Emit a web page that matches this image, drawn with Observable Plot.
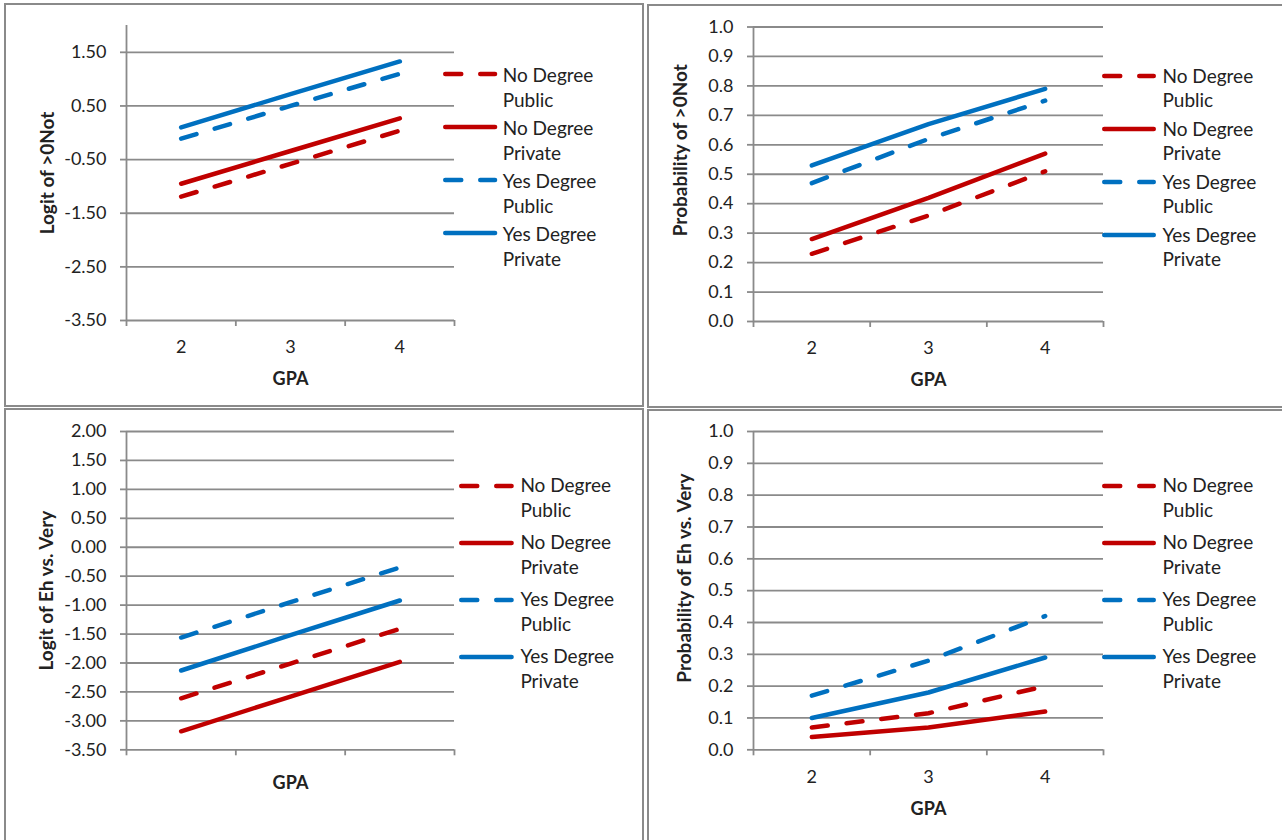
<!DOCTYPE html>
<html>
<head>
<meta charset="utf-8">
<script src="https://cdn.jsdelivr.net/npm/d3@7"></script>
<script src="https://cdn.jsdelivr.net/npm/@observablehq/plot@0.6"></script>
<style>
html, body { margin: 0; padding: 0; background: #fff; }
#root { position: relative; width: 1282px; height: 840px; overflow: hidden; background: #fff; font-family: Lato, "Open Sans", sans-serif; }
.panel { position: absolute; border: 2px solid #8a8a8a; box-sizing: border-box; }
.chart { position: absolute; }
.chart svg { overflow: visible; }
.lg-text { position: absolute; font-size: 19px; line-height: 25px; color: #222; white-space: nowrap; }
.lg-swatch { position: absolute; overflow: visible; }
</style>
</head>
<body>
<div id="root"></div>
<script>
// ---------------- DATA ----------------
const gpa = [2, 3, 4];
const seriesDegree = ["No Degree", "No Degree", "Yes Degree", "Yes Degree"];
const seriesSchool = ["Public", "Private", "Public", "Private"];

// Logit of >0Not
const logitNotNoPublic   = [-1.19, -0.58, 0.04];
const logitNotNoPrivate  = [-0.95, -0.34, 0.27];
const logitNotYesPublic  = [-0.11, 0.50, 1.10];
const logitNotYesPrivate = [0.10, 0.72, 1.33];

// Probability of >0Not
const probNotNoPublic   = [0.23, 0.36, 0.51];
const probNotNoPrivate  = [0.28, 0.42, 0.57];
const probNotYesPublic  = [0.47, 0.62, 0.75];
const probNotYesPrivate = [0.53, 0.67, 0.79];

// Logit of Eh vs. Very
const logitVeryNoPublic   = [-2.61, -2.01, -1.41];
const logitVeryNoPrivate  = [-3.18, -2.58, -1.98];
const logitVeryYesPublic  = [-1.56, -0.95, -0.35];
const logitVeryYesPrivate = [-2.13, -1.52, -0.92];

// Probability of Eh vs. Very
const probVeryNoPublic   = [0.07, 0.115, 0.20];
const probVeryNoPrivate  = [0.04, 0.07, 0.12];
const probVeryYesPublic  = [0.17, 0.28, 0.42];
const probVeryYesPrivate = [0.10, 0.18, 0.29];

// Tick values
const logitNotTicks  = [-3.5, -2.5, -1.5, -0.5, 0.5, 1.5];
const logitVeryTicks = [-3.5, -3, -2.5, -2, -1.5, -1, -0.5, 0, 0.5, 1, 1.5, 2];
const probTicks      = [0, 0.1, 0.2, 0.3, 0.4, 0.5, 0.6, 0.7, 0.8, 0.9, 1.0];
const logitDomain = [-3.5, 2];
const probDomain  = [0, 1];

// ---------------- STYLE ----------------
const seriesNames = seriesDegree.map((d, i) => d + " " + seriesSchool[i]);
const seriesColors = ["#C00000", "#C00000", "#0070C0", "#0070C0"];
const seriesDashed = [true, false, true, false];
const DASH = "16,19";
const GRID = "#8a8a8a";
const TEXT = "#222";
const LINE_W = 4.5;
const TICK_FONT = 18;

const xDomain = [gpa[0] - 0.5, gpa[gpa.length - 1] + 0.5];
const bounds = [...gpa.map(g => g - 0.5), gpa[gpa.length - 1] + 0.5];

const root = document.getElementById("root");

function panel(left, top, width, height) {
  const d = document.createElement("div");
  d.className = "panel";
  Object.assign(d.style, {left: left + "px", top: top + "px", width: width + "px", height: height + "px"});
  root.appendChild(d);
}

function makeChart(cfg) {
  const data = seriesNames.flatMap((name, s) =>
    gpa.map((g, i) => ({series: name, gpa: g, value: cfg.values[s][i]})));
  const marks = [
    Plot.gridY({ticks: cfg.ticks, stroke: GRID, strokeOpacity: 1, strokeWidth: 1.8}),
    Plot.ruleX([xDomain[0]], {stroke: GRID, strokeWidth: 1.8}),
    Plot.axisY({ticks: cfg.ticks, tickSize: 6, tickFormat: () => "", stroke: GRID, strokeWidth: 1.8, label: null}),
    Plot.axisX({ticks: bounds, tickSize: 6, tickFormat: () => "", stroke: GRID, strokeWidth: 1.8, label: null}),
    Plot.text(cfg.ticks, {y: d => d, text: cfg.fmt, frameAnchor: "left", dx: -20, textAnchor: "end",
      lineAnchor: "middle", fontSize: TICK_FONT, fill: TEXT})
  ];
  if (cfg.xLabels) {
    marks.push(Plot.text(gpa, {x: d => d, text: d => String(d), frameAnchor: "bottom", dy: 27,
      lineAnchor: "middle", fontSize: TICK_FONT, fill: TEXT}));
  }
  seriesNames.forEach((name, s) => {
    const opts = {x: "gpa", y: "value", stroke: "series", strokeWidth: LINE_W,
      strokeLinecap: "round", strokeLinejoin: "round"};
    if (seriesDashed[s]) opts.strokeDasharray = DASH;
    marks.push(Plot.line(data.filter(d => d.series === name), opts));
  });
  marks.push(Plot.text([cfg.yTitle], {text: d => d, frameAnchor: "left", dx: cfg.yTitleDx, dy: cfg.yTitleDy,
    rotate: -90, textAnchor: "middle", lineAnchor: "middle", fontWeight: "bold", fontSize: 19, fill: TEXT}));
  marks.push(Plot.text(["GPA"], {text: d => d, frameAnchor: "bottom", dy: cfg.gpaDy, lineAnchor: "middle",
    fontWeight: "bold", fontSize: 18, fill: TEXT}));

  const svg = Plot.plot({
    width: cfg.width, height: cfg.height,
    marginLeft: cfg.mL, marginRight: cfg.mR, marginTop: cfg.mT, marginBottom: cfg.mB,
    x: {domain: xDomain, axis: null},
    y: {domain: cfg.domain, axis: null},
    color: {domain: seriesNames, range: seriesColors},
    style: {fontFamily: "Lato, 'Open Sans', sans-serif", fontSize: "18px", background: "transparent", color: TEXT, overflow: "visible"},
    marks
  });
  const wrap = document.createElement("div");
  wrap.className = "chart";
  wrap.style.left = cfg.left + "px";
  wrap.style.top = cfg.top + "px";
  wrap.appendChild(svg);
  root.appendChild(wrap);
}

function makeLegend(lg) {
  seriesNames.forEach((name, s) => {
    const cy = lg.y0 + s * lg.rowStep;
    const w = lg.x1 - lg.x0;
    const sw = d3.create("svg").attr("class", "lg-swatch")
      .attr("width", w).attr("height", 10)
      .style("left", lg.x0 + "px").style("top", (cy - 5) + "px");
    sw.append("line")
      .attr("x1", LINE_W / 2).attr("x2", w - LINE_W / 2).attr("y1", 5).attr("y2", 5)
      .attr("stroke", seriesColors[s]).attr("stroke-width", LINE_W)
      .attr("stroke-linecap", "round")
      .attr("stroke-dasharray", seriesDashed[s] ? DASH : null);
    root.appendChild(sw.node());
    const t = document.createElement("div");
    t.className = "lg-text";
    t.style.left = lg.tx + "px";
    t.style.top = (cy - 12.5) + "px";
    t.style.lineHeight = lg.lineStep + "px";
    t.innerHTML = seriesDegree[s] + "<br>" + seriesSchool[s];
    root.appendChild(t);
  });
}

panel(4, 3, 640, 404);
panel(647, 4, 650, 404);
panel(4, 408, 640, 450);
panel(647, 409, 650, 450);

const fmt2 = d => d.toFixed(2);
const fmt1 = d => d.toFixed(1);

makeChart({left: 0, top: 0, width: 645, height: 405, mL: 126, mR: 191, mT: 25, mB: 85,
  domain: logitDomain, ticks: logitNotTicks, fmt: fmt2,
  values: [logitNotNoPublic, logitNotNoPrivate, logitNotYesPublic, logitNotYesPrivate],
  yTitle: "Logit of >0Not", yTitleDx: -79, yTitleDy: 0, gpaDy: 59, xLabels: true});

makeChart({left: 645, top: 0, width: 637, height: 405, mL: 108, mR: 179, mT: 26.5, mB: 84,
  domain: probDomain, ticks: probTicks, fmt: fmt1,
  values: [probNotNoPublic, probNotNoPrivate, probNotYesPublic, probNotYesPrivate],
  yTitle: "Probability of >0Not", yTitleDx: -73, yTitleDy: -24, gpaDy: 59, xLabels: true});

makeChart({left: 0, top: 405, width: 645, height: 435, mL: 126, mR: 191, mT: 26, mB: 90.7,
  domain: logitDomain, ticks: logitVeryTicks, fmt: fmt2,
  values: [logitVeryNoPublic, logitVeryNoPrivate, logitVeryYesPublic, logitVeryYesPrivate],
  yTitle: "Logit of Eh vs. Very", yTitleDx: -80, yTitleDy: 0, gpaDy: 33.4, xLabels: false});

makeChart({left: 645, top: 405, width: 637, height: 435, mL: 108, mR: 179, mT: 26, mB: 90.7,
  domain: probDomain, ticks: probTicks, fmt: fmt1,
  values: [probVeryNoPublic, probVeryNoPrivate, probVeryYesPublic, probVeryYesPrivate],
  yTitle: "Probability of Eh vs. Very", yTitleDx: -69, yTitleDy: -12.5, gpaDy: 59, xLabels: true});

makeLegend({x0: 443.4, x1: 497.7, tx: 502.7, y0: 74, rowStep: 53.1, lineStep: 25.3});
makeLegend({x0: 1102, x1: 1156, tx: 1162.5, y0: 76, rowStep: 53, lineStep: 24.8});
makeLegend({x0: 458.6, x1: 513.4, tx: 520.4, y0: 485.7, rowStep: 57, lineStep: 24.8});
makeLegend({x0: 1102, x1: 1156, tx: 1162.5, y0: 485.7, rowStep: 57, lineStep: 24.8});
</script>
</body>
</html>
